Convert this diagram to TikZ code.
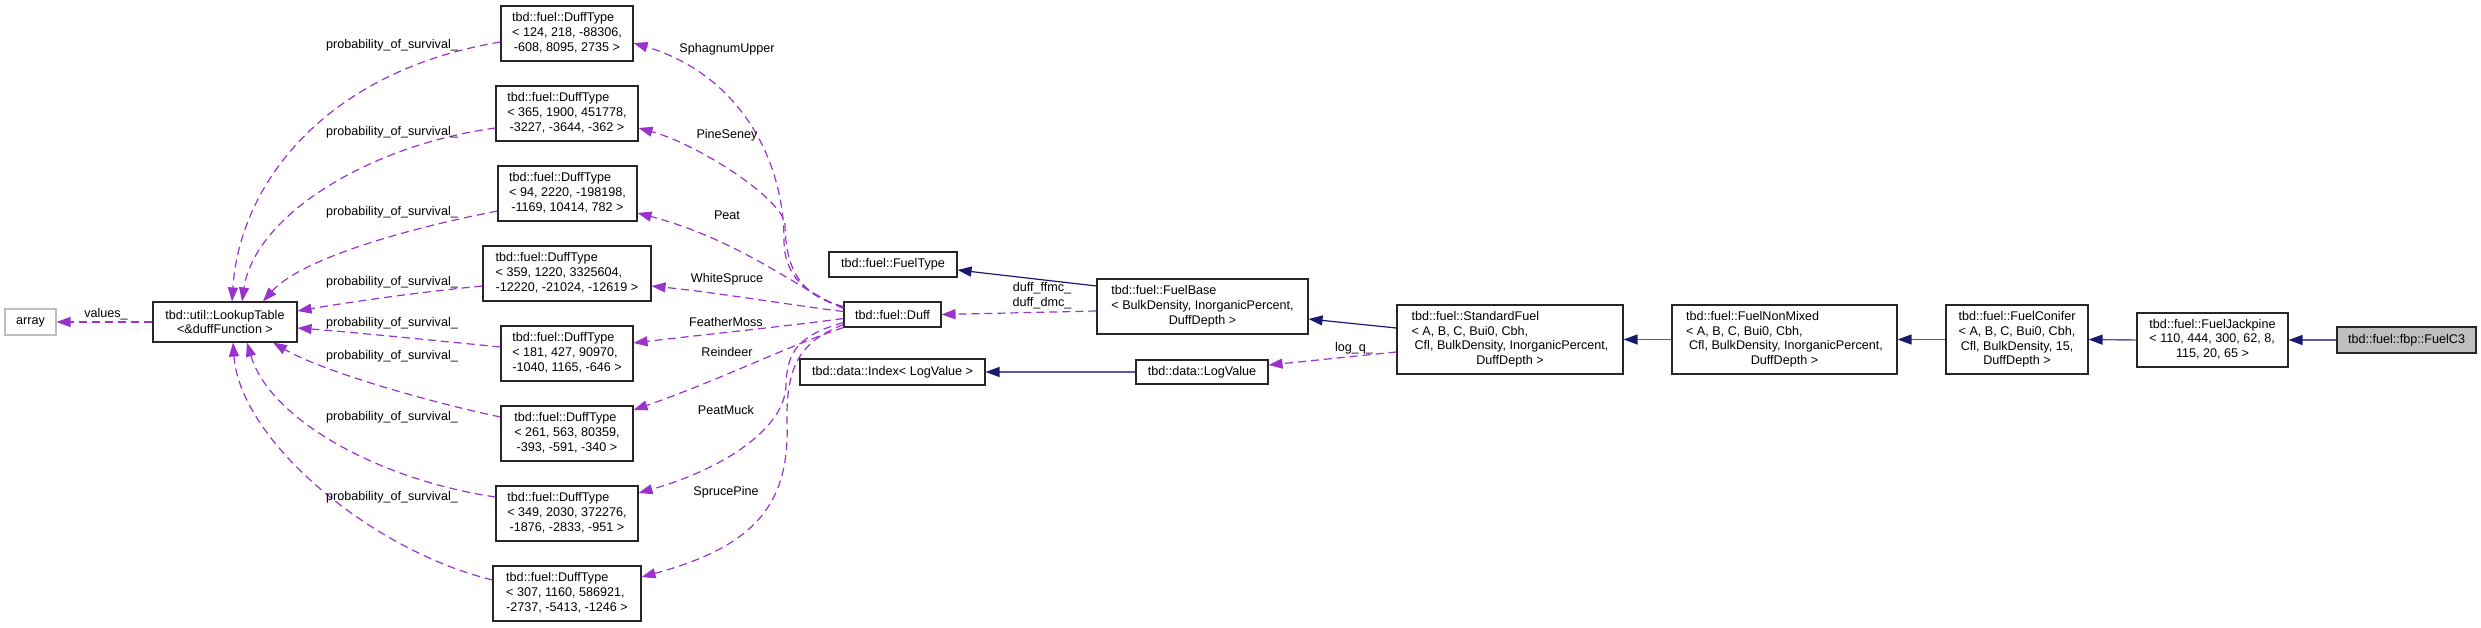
\documentclass[tikz,border=0pt]{standalone}
\usepackage{fontspec}
\setmainfont{Liberation Sans}
\usetikzlibrary{arrows.meta,calc}
\definecolor{edgep}{HTML}{9A32CD}
\definecolor{edgeb}{HTML}{191970}
\definecolor{edgebl}{HTML}{5A5A9C}
\definecolor{grayb}{HTML}{BFBFBF}
\newcommand{\lc}[1]{\begin{tabular}{@{}l@{}}#1\end{tabular}}
\newcommand{\cc}[1]{\multicolumn{1}{@{}c@{}}{#1}}
\begin{document}
\begin{tikzpicture}[x=1pt,y=-1pt,font=\fontsize{12.6pt}{14.7pt}\selectfont,
  box/.style={draw=black!85,line width=1.1pt,inner sep=0pt},
  pe/.style={draw=edgep,line width=1.2pt,dash pattern=on 8pt off 5pt,-{Triangle[length=14pt,width=10pt]}},
  be/.style={draw=edgeb,line width=1.2pt,-{Triangle[length=14pt,width=10pt]}},
  bh/.style={draw=edgebl,line width=1.4pt,-{Triangle[length=14pt,width=10pt,color=edgeb]}},
  lbl/.style={inner sep=0pt}]
\useasboundingbox (0,0) rectangle (2481,627);
% nodes
\node[box,draw=grayb,minimum width=51pt,minimum height=26pt] (arr) at (30.5,322) {array};
\node[box,minimum width=144pt,minimum height=40pt,align=center] (LT) at (225,322) {tbd::util::LookupTable\\<\&duffFunction >};
\node[box,minimum width=132pt,minimum height=55pt] (D1) at (567,33.5) {\lc{tbd::fuel::DuffType\\< 124, 218, -88306,\\\cc{-608, 8095, 2735 >}}};
\node[box,minimum width=142pt,minimum height=55pt] (D2) at (567,113.5) {\lc{tbd::fuel::DuffType\\< 365, 1900, 451778,\\\cc{-3227, -3644, -362 >}}};
\node[box,minimum width=139pt,minimum height=55pt] (D3) at (567.5,193.5) {\lc{tbd::fuel::DuffType\\< 94, 2220, -198198,\\\cc{-1169, 10414, 782 >}}};
\node[box,minimum width=168pt,minimum height=55pt] (D4) at (567,273.5) {\lc{tbd::fuel::DuffType\\< 359, 1220, 3325604,\\\cc{-12220, -21024, -12619 >}}};
\node[box,minimum width=132pt,minimum height=55pt] (D5) at (567,353.5) {\lc{tbd::fuel::DuffType\\< 181, 427, 90970,\\\cc{-1040, 1165, -646 >}}};
\node[box,minimum width=132pt,minimum height=55pt] (D6) at (567,433.5) {\lc{tbd::fuel::DuffType\\< 261, 563, 80359,\\\cc{-393, -591, -340 >}}};
\node[box,minimum width=142pt,minimum height=55pt] (D7) at (567,513.5) {\lc{tbd::fuel::DuffType\\< 349, 2030, 372276,\\\cc{-1876, -2833, -951 >}}};
\node[box,minimum width=148pt,minimum height=55pt] (D8) at (567,593.5) {\lc{tbd::fuel::DuffType\\< 307, 1160, 586921,\\\cc{-2737, -5413, -1246 >}}};
\node[box,minimum width=128pt,minimum height=25pt] (FT) at (893,264.5) {tbd::fuel::FuelType};
\node[box,minimum width=97pt,minimum height=25pt] (Duff) at (892.5,314.5) {tbd::fuel::Duff};
\node[box,minimum width=185pt,minimum height=26pt] (Idx) at (892.5,372) {tbd::data::Index< LogValue >};
\node[box,minimum width=211pt,minimum height=55pt] (FB) at (1202.5,306.5) {\lc{tbd::fuel::FuelBase\\< BulkDensity, InorganicPercent,\\\cc{DuffDepth >}}};
\node[box,minimum width=132pt,minimum height=24pt] (LV) at (1202,372) {tbd::data::LogValue};
\node[box,minimum width=226pt,minimum height=69pt] (SF) at (1510,339.5) {\lc{tbd::fuel::StandardFuel\\< A, B, C, Bui0, Cbh,\\\hspace{3pt}Cfl, BulkDensity, InorganicPercent,\\\cc{DuffDepth >}}};
\node[box,minimum width=225pt,minimum height=69pt] (NM) at (1784.5,339.5) {\lc{tbd::fuel::FuelNonMixed\\< A, B, C, Bui0, Cbh,\\\hspace{3pt}Cfl, BulkDensity, InorganicPercent,\\\cc{DuffDepth >}}};
\node[box,minimum width=142pt,minimum height=69pt,align=center] (FC) at (2017,339.5) {tbd::fuel::FuelConifer\\< A, B, C, Bui0, Cbh,\\Cfl, BulkDensity, 15,\\DuffDepth >};
\node[box,minimum width=151pt,minimum height=54pt] (FJ) at (2212.5,340) {\lc{tbd::fuel::FuelJackpine\\< 110, 444, 300, 62, 8,\\\cc{115, 20, 65 >}}};
\node[box,fill=grayb,minimum width=139pt,minimum height=26pt] (C3) at (2406.5,340) {tbd::fuel::fbp::FuelC3};
% LookupTable -> array
\draw[pe] (LT.west) -- (arr.east);
\node[lbl] (lv) at (106,314) {values\_};
% probability_of_survival_ edges
\draw[pe] ($(D1.west)+(0,8.5)$) .. controls (330,70) and (240,180) .. ($(LT.north)+(7,0)$);
\draw[pe] ($(D2.west)+(0,14.5)$) .. controls (370,145) and (255,215) .. ($(LT.north)+(17,0)$);
\draw[pe] ($(D3.west)+(0,17.5)$) .. controls (400,230) and (300,260) .. ($(LT.north)+(38,0)$);
\draw[pe] ($(D4.west)+(0,12.5)$) .. controls (420,292) and (350,302) .. ($(LT.east)+(0,-11)$);
\draw[pe] ($(D5.west)+(0,-6.5)$) .. controls (430,340) and (350,332) .. ($(LT.east)+(0,6)$);
\draw[pe] ($(D6.west)+(0,-16.5)$) .. controls (420,400) and (320,370) .. ($(LT.south)+(48,0)$);
\draw[pe] ($(D7.west)+(0,-16.5)$) .. controls (380,480) and (270,420) .. ($(LT.south)+(22,0)$);
\draw[pe] ($(D8.west)+(0,-13.5)$) .. controls (370,550) and (240,440) .. ($(LT.south)+(8,0)$);
\foreach \n/\y in {p1/45,p2/132,p3/212,p4/282,p5/323,p6/356,p7/417,p8/497}
  \node[lbl] (\n) at (392,\y) {probability\_of\_survival\_};
% Duff -> DuffType edges
\draw[pe] ($(Duff.west)+(0,-7)$) .. controls (805,295) and (784,275) .. (784,240) .. controls (784,160) and (740,75) .. ($(D1.east)+(0,9.5)$);
\draw[pe] ($(Duff.west)+(0,-8)$) .. controls (800,295) and (786,270) .. (785,225) .. controls (784,200) and (700,145) .. ($(D2.east)+(0,14.5)$);
\draw[pe] ($(Duff.west)+(0,-6)$) .. controls (800,290) and (740,240) .. ($(D3.east)+(0,19.5)$);
\draw[pe] ($(Duff.west)+(0,-3)$) .. controls (790,305) and (720,293) .. ($(D4.east)+(0,12.5)$);
\draw[pe] ($(Duff.west)+(0,4)$) .. controls (780,327) and (700,335) .. ($(D5.east)+(0,-10.5)$);
\draw[pe] (Duff.south west) .. controls (790,345) and (720,380) .. ($(D6.east)+(0,-23.5)$);
\draw[pe] ($(Duff.west)+(0,8)$) .. controls (800,335) and (787,350) .. (786,385) .. controls (785,430) and (720,470) .. ($(D7.east)+(0,-20.5)$);
\draw[pe] ($(Duff.west)+(0,10)$) .. controls (805,340) and (786,360) .. (787,420) .. controls (790,500) and (760,545) .. ($(D8.east)+(0,-16.5)$);
\node[lbl] (s1) at (727,49) {SphagnumUpper};
\node[lbl] (s2) at (727,135) {PineSeney};
\node[lbl] (s3) at (727,215) {Peat};
\node[lbl] (s4) at (727,279) {WhiteSpruce};
\node[lbl] (s5) at (726,322) {FeatherMoss};
\node[lbl] (s6) at (727,352) {Reindeer};
\node[lbl] (s7) at (726,410) {PeatMuck};
\node[lbl] (s8) at (726,492) {SprucePine};
% right part
\draw[pe] ($(FB.west)+(0,4.5)$) -- (Duff.east);
\node[lbl,align=center] (ldm) at (1042,296) {duff\_ffmc\_\\duff\_dmc\_};
\draw[be] ($(FB.west)+(0,-20.5)$) -- ($(FT.east)+(0,5.5)$);
\draw[be] ($(SF.west)+(0,-11.5)$) -- ($(FB.east)+(0,12.5)$);
\draw[pe] ($(SF.west)+(0,12.5)$) -- ($(LV.east)+(0,-7)$);
\node[lbl] (llq) at (1354,348) {log\_q\_};
\draw[bh] (LV.west) -- (Idx.east);
\draw[bh] (NM.west) -- (SF.east);
\draw[bh] (FC.west) -- (NM.east);
\draw[bh] (FJ.west) -- (FC.east);
\draw[bh] (C3.west) -- (FJ.east);
\end{tikzpicture}
\end{document}
